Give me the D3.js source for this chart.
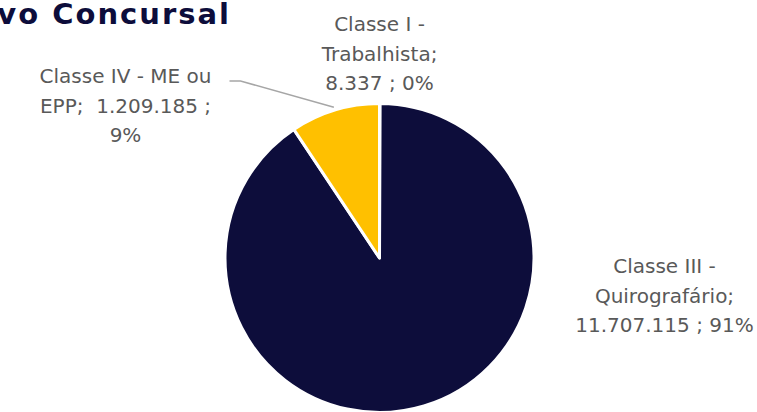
<!DOCTYPE html>
<html>
<head>
<meta charset="utf-8">
<script src="https://cdn.jsdelivr.net/npm/d3@7"></script>
<style>
  html, body { margin: 0; padding: 0; background: #fff; overflow: hidden; }
</style>
</head>
<body>
<div id="chart"></div>
<script>
// dados do passivo concursal
const categories = ["Classe I - Trabalhista", "Classe III - Quirografário", "Classe IV - ME ou EPP"];
const values = [8337, 11707115, 1209185];
const colors = ["#0D0D3B", "#0D0D3B", "#FFC000"];
const labelLines = [
    ["Classe I -", "Trabalhista;", "8.337 ; 0%"],
    ["Classe III -", "Quirografário;", "11.707.115 ; 91%"],
    ["Classe IV - ME ou", "EPP;  1.209.185 ;", "9%"]
];
const title = "Passivo Concursal";

const width = 757, height = 412;
const cx = 379.5, cy = 258, radius = 154.5;
const lineH = 29.5;
// posição dos rótulos (centro, primeira linha) relativo ao centro da pizza
const labelPos = [
    { dx: 0, dy: -227 },
    { dx: 285, dy: 15 },
    { dx: -254, dy: -175 }
];

const svg = d3.select('#chart')
    .append('svg')
    .attr('width', width)
    .attr('height', height);

// título (cortado à esquerda como no original)
svg.append('text')
    .attr('x', 231)
    .attr('y', 24)
    .attr('text-anchor', 'end')
    .style('font-family', 'DejaVu Sans')
    .style('font-weight', 'bold')
    .style('font-size', '29px')
    .style('letter-spacing', '2px')
    .style('fill', '#0D0D3B')
    .text(title);

const pie = d3.pie().sort(null).value(d => d);
const arcs = pie(values);
const arc = d3.arc().innerRadius(0).outerRadius(radius);

const g = svg.append('g').attr('transform', `translate(${cx},${cy})`);

g.selectAll('path.slice')
    .data(arcs)
    .enter()
    .append('path')
    .attr('class', 'slice')
    .attr('d', arc)
    .attr('fill', (_, i) => colors[i])
    .attr('stroke', '#fff')
    .attr('stroke-width', 3)
    .attr('stroke-linejoin', 'round');

// linha guia da Classe IV
const edgeArc = d3.arc().innerRadius(radius + 3).outerRadius(radius + 3);
const tip = edgeArc.centroid(arcs[2]);
const lp = labelPos[2];
const lineStartX = lp.dx + 104, lineY = lp.dy - 2;
g.append('polyline')
    .attr('points', [[lineStartX, lineY], [lineStartX + 11, lineY], tip].map(p => p.join(',')).join(' '))
    .attr('fill', 'none')
    .attr('stroke', '#A6A6A6')
    .attr('stroke-width', 1.5);

// rótulos
labelLines.forEach((lines, i) => {
    const t = g.append('text')
        .attr('x', labelPos[i].dx)
        .attr('y', labelPos[i].dy)
        .attr('text-anchor', 'middle')
        .style('font-family', 'DejaVu Sans')
        .style('font-size', '20px')
        .style('fill', '#595959');
    lines.forEach((l, j) => {
        t.append('tspan')
            .attr('x', labelPos[i].dx)
            .attr('y', labelPos[i].dy + j * lineH)
            .style('white-space', 'pre')
            .text(l);
    });
});
</script>
</body>
</html>
